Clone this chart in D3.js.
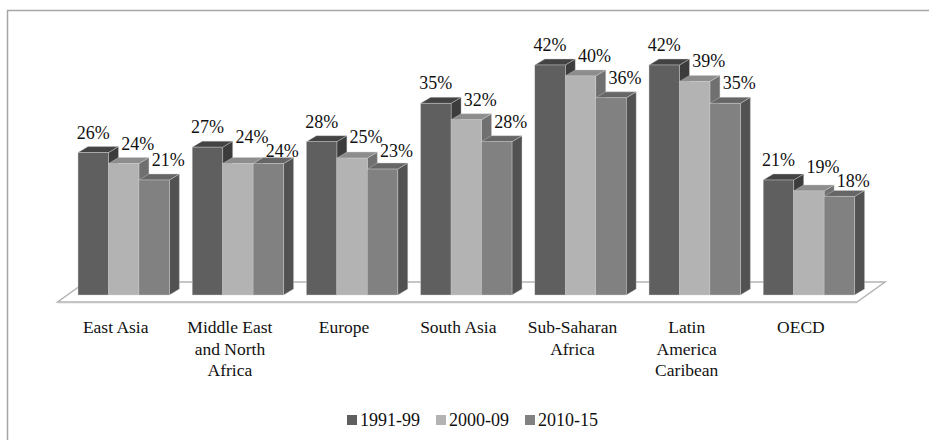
<!DOCTYPE html>
<html>
<head>
<meta charset="utf-8">
<script src="https://cdn.jsdelivr.net/npm/d3@7"></script>
<style>
  body { margin: 0; background: #fff; }
</style>
</head>
<body>
<div id="chart"></div>
<script>
// data
const categories = [
  ["East Asia"],
  ["Middle East", "and North", "Africa"],
  ["Europe"],
  ["South Asia"],
  ["Sub-Saharan", "Africa"],
  ["Latin", "America", "Caribean"],
  ["OECD"]
]
const seriesNames = ["1991-99", "2000-09", "2010-15"]
const v1991 = [26, 27, 28, 35, 42, 42, 21]
const v2000 = [24, 24, 25, 32, 40, 39, 19]
const v2010 = [21, 24, 23, 28, 36, 35, 18]

const values = [v1991, v2000, v2010]
const catKeys = categories.map(c => c.join(" "))

const width = 929, height = 440
const font = "'Liberation Serif', 'Times New Roman', Times, 'DejaVu Serif', serif"
const depth = { dx: 10, dy: 6 }
const front = ["#5f5f5f", "#b3b3b3", "#818181"]
const top_ = ["#434343", "#8d8d8d", "#666666"]
const side = ["#3c3c3c", "#707070", "#525252"]
const labelShift = [0, 14, 14]

const svg = d3.select("#chart").append("svg")
  .attr("width", width)
  .attr("height", height)
  .style("display", "block")

// outer frame (runs off the right and bottom of the picture)
svg.append("rect")
  .attr("x", 7.5).attr("y", 10.5)
  .attr("width", 940).attr("height", 460)
  .attr("fill", "none")
  .attr("stroke", "#a6a6a6")
  .attr("stroke-width", 1.5)

const x0 = d3.scaleBand()
  .domain(catKeys)
  .range([66.6, 866])
  .paddingInner(0.2)
  .paddingOuter(0.1)

const x1 = d3.scaleBand()
  .domain(seriesNames)
  .range([0, x0.bandwidth()])

const y = d3.scaleLinear()
  .domain([0, 42])
  .range([295, 65])

// floor
const [fx0, fx1] = x0.range()
const base = y(0)
const floor = [
  [fx0 - 9, base + 7], [fx1 - 9, base + 7],
  [fx1 + 19, base - 13], [fx0 + 19, base - 13]
]
svg.append("polygon")
  .attr("points", floor.map(p => p.join(",")).join(" "))
  .attr("fill", "#fff")
  .attr("stroke", "#b4b4b4")
  .attr("stroke-width", 1.5)
svg.append("line")
  .attr("x1", floor[0][0]).attr("x2", floor[1][0])
  .attr("y1", floor[0][1] + 0.5).attr("y2", floor[1][1] + 0.5)
  .attr("stroke", "#c4c4c4")
  .attr("stroke-width", 1.5)

const bars = []
catKeys.forEach((c, ci) => {
  seriesNames.forEach((s, si) => {
    bars.push({ cat: c, s, si, v: values[si][ci] })
  })
})

const w = x1.bandwidth()
const g = svg.append("g")

const bar = g.selectAll("g.bar")
  .data(bars)
  .join("g")
  .attr("class", "bar")

// side face
bar.append("polygon")
  .attr("points", d => {
    const x = x0(d.cat) + x1(d.s) + w, t = y(d.v)
    return [[x, t], [x + depth.dx, t - depth.dy], [x + depth.dx, base - depth.dy], [x, base]]
      .map(p => p.join(",")).join(" ")
  })
  .attr("fill", d => side[d.si])
  .attr("stroke", "#cfcfcf").attr("stroke-width", 0.4)

// top face
bar.append("polygon")
  .attr("points", d => {
    const x = x0(d.cat) + x1(d.s), t = y(d.v)
    return [[x, t], [x + depth.dx, t - depth.dy], [x + w + depth.dx, t - depth.dy], [x + w, t]]
      .map(p => p.join(",")).join(" ")
  })
  .attr("fill", d => top_[d.si])
  .attr("stroke", "#cfcfcf").attr("stroke-width", 0.4)

// front face
bar.append("rect")
  .attr("x", d => x0(d.cat) + x1(d.s))
  .attr("y", d => y(d.v))
  .attr("width", w)
  .attr("height", d => base - y(d.v))
  .attr("fill", d => front[d.si])
  .attr("stroke", "#cfcfcf").attr("stroke-width", 0.4)

// value labels
const vals = g.selectAll("text.val")
  .data(bars)
  .join("text")
  .attr("class", "val")
  .attr("x", d => x0(d.cat) + x1(d.s) + w / 2 + labelShift[d.si])
  .attr("y", d => y(d.v) - 14)
  .attr("text-anchor", "middle")
  .attr("font-family", font)
  .attr("font-size", 18)
  .attr("fill", "#111")
  .text(d => d.v + "%")

// push apart labels that collide inside a group
const lineH = 14
vals.each(function (d) {
  d.lx = +this.getAttribute("x")
  d.ly = +this.getAttribute("y")
  d.lw = this.getComputedTextLength()
})
for (let i = 1; i < bars.length; i++) {
  const a = bars[i - 1], b = bars[i]
  if (a.cat !== b.cat) continue
  const overlapX = (a.lw + b.lw) / 2 - Math.abs(b.lx - a.lx)
  const gap = b.ly - a.ly
  if (overlapX > 0 && gap < lineH) {
    const push = (lineH - gap) / 2
    a.ly -= push
    b.ly += push
  }
}
vals.attr("y", d => d.ly)

// category labels
const cat = svg.selectAll("text.cat")
  .data(categories)
  .join("text")
  .attr("class", "cat")
  .attr("x", (d, i) => x0(catKeys[i]) + x0.bandwidth() / 2 - 8)
  .attr("y", 333)
  .attr("text-anchor", "middle")
  .attr("font-family", font)
  .attr("font-size", 17.5)
  .attr("fill", "#111")
cat.selectAll("tspan")
  .data((d, i) => d.map(t => ({ t, x: x0(catKeys[i]) + x0.bandwidth() / 2 - 8 })))
  .join("tspan")
  .attr("x", d => d.x)
  .attr("dy", (d, i) => i === 0 ? 0 : 21.5)
  .text(d => d.t)

// legend
const legend = svg.append("g").attr("transform", "translate(347,415)")
let lx = 0
seriesNames.forEach((s, i) => {
  const item = legend.append("g").attr("transform", `translate(${lx},0)`)
  item.append("rect")
    .attr("width", 10).attr("height", 10)
    .attr("fill", front[i])
  const t = item.append("text")
    .attr("x", 13).attr("y", 11)
    .attr("font-family", font)
    .attr("font-size", 18)
    .attr("fill", "#111")
    .text(s)
  lx += 13 + t.node().getComputedTextLength() + 16
})
</script>
</body>
</html>
